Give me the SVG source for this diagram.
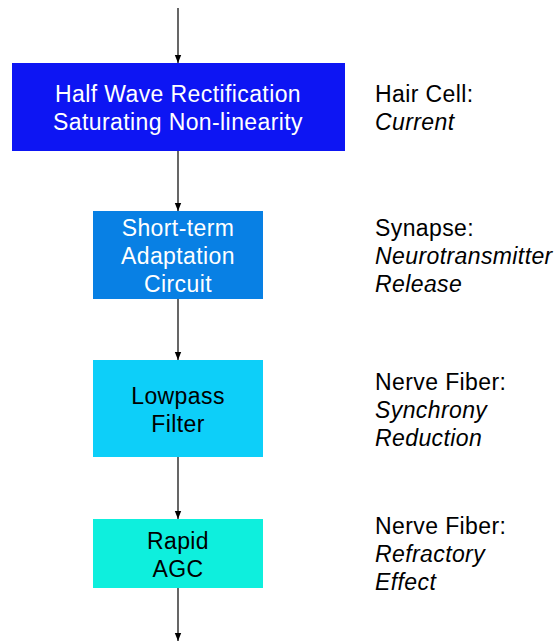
<svg xmlns="http://www.w3.org/2000/svg" width="555" height="643" viewBox="0 0 555 643">
<style>
text{font-family:"Liberation Sans",Arial,Helvetica,sans-serif;font-size:23px;letter-spacing:0.4px}
.c{text-anchor:middle}
.w{fill:#ffffff}
.k{fill:#000000}
.i{font-style:italic}
.e{stroke:#000;stroke-width:1.2;fill:none;marker-end:url(#ah)}
</style>
<defs>
<marker id="ah" viewBox="0 0 10 10" refX="10" refY="5" markerWidth="8" markerHeight="8" markerUnits="userSpaceOnUse" orient="auto">
<path d="M0,1 L10,5 L0,9 Z" fill="#000"/>
</marker>
</defs>
<g id="connectors">
<line class="e" x1="178" y1="8" x2="178" y2="63"/>
<line class="e" x1="178" y1="151" x2="178" y2="211"/>
<line class="e" x1="178" y1="299" x2="178" y2="360"/>
<line class="e" x1="178" y1="457" x2="178" y2="519"/>
<line class="e" x1="178" y1="588" x2="178" y2="641"/>
</g>
<g id="n1">
<rect x="12" y="63" width="333" height="88" fill="#0d15f3"/>
<text class="c w" x="178" y="102">Half Wave Rectification</text>
<text class="c w" x="178" y="130">Saturating Non-linearity</text>
</g>
<g id="n2">
<rect x="93" y="211" width="170" height="88" fill="#0880e4"/>
<text class="c w" x="178" y="236">Short-term</text>
<text class="c w" x="178" y="264">Adaptation</text>
<text class="c w" x="178" y="292">Circuit</text>
</g>
<g id="n3">
<rect x="93" y="360" width="170" height="97" fill="#0dcff9"/>
<text class="c k" x="178" y="404">Lowpass</text>
<text class="c k" x="178" y="432">Filter</text>
</g>
<g id="n4">
<rect x="93" y="519" width="170" height="69" fill="#0eefdd"/>
<text class="c k" x="178" y="549">Rapid</text>
<text class="c k" x="178" y="577">AGC</text>
</g>
<g id="l1">
<text x="375" y="102">Hair Cell:</text>
<text class="i" x="375" y="130">Current</text>
</g>
<g id="l2">
<text x="375" y="236">Synapse:</text>
<text class="i" x="375" y="264">Neurotransmitter</text>
<text class="i" x="375" y="292">Release</text>
</g>
<g id="l3">
<text x="375" y="390">Nerve Fiber:</text>
<text class="i" x="375" y="418">Synchrony</text>
<text class="i" x="375" y="446">Reduction</text>
</g>
<g id="l4">
<text x="375" y="534">Nerve Fiber:</text>
<text class="i" x="375" y="562">Refractory</text>
<text class="i" x="375" y="590">Effect</text>
</g>
</svg>
